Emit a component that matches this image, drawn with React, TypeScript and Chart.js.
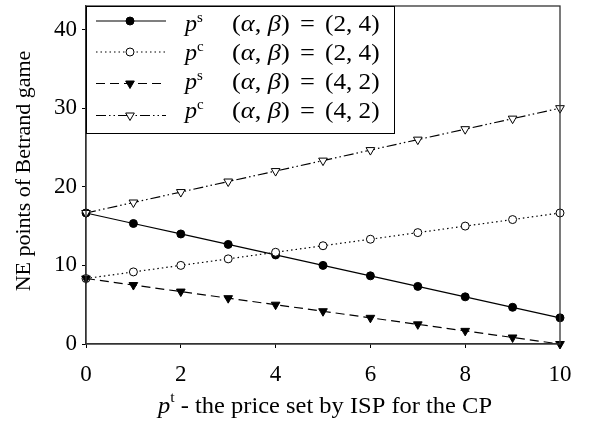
import React, { useEffect, useRef } from 'react';
import { Chart, registerables } from 'chart.js';

Chart.register(...registerables);

// ---- data ----
const xValues = [0, 1, 2, 3, 4, 5, 6, 7, 8, 9, 10];
const psA = [16.67, 15.33, 14.0, 12.67, 11.33, 10.0, 8.67, 7.33, 6.0, 4.67, 3.33]; // p^s (2,4)
const pcA = [8.33, 9.17, 10.0, 10.83, 11.67, 12.5, 13.33, 14.17, 15.0, 15.83, 16.67]; // p^c (2,4)
const psB = [8.33, 7.5, 6.67, 5.83, 5.0, 4.17, 3.33, 2.5, 1.67, 0.83, 0.0]; // p^s (4,2)
const pcB = [16.67, 18.0, 19.33, 20.67, 22.0, 23.33, 24.67, 26.0, 27.33, 28.67, 30.0]; // p^c (4,2)

const xTicks = [0, 2, 4, 6, 8, 10];
const yTicks = [0, 10, 20, 30, 40];

const legendSup = ['s', 'c', 's', 'c'];
const legendAB = [['2', '4'], ['2', '4'], ['4', '2'], ['4', '2']];

const yTitle = 'NE points of Betrand game';
const xTitleMain = 'p';
const xTitleSup = 't';
const xTitleRest = ' - the price set by ISP for the CP';

const FONT = "'Liberation Serif', serif";

type Style = { dash: number[]; shape: 'circle' | 'tri'; filled: boolean };
const styles: Style[] = [
  { dash: [], shape: 'circle', filled: true },
  { dash: [1.5, 3], shape: 'circle', filled: false },
  { dash: [9, 5], shape: 'tri', filled: true },
  { dash: [10, 3, 1.5, 3, 1.5, 3], shape: 'tri', filled: false },
];

function drawMarker(ctx: CanvasRenderingContext2D, s: Style, x: number, y: number) {
  ctx.save();
  ctx.setLineDash([]);
  ctx.lineWidth = 1;
  ctx.strokeStyle = '#000';
  ctx.fillStyle = s.filled ? '#000' : '#fff';
  ctx.beginPath();
  if (s.shape === 'circle') {
    ctx.arc(x, y, 4, 0, Math.PI * 2);
  } else {
    const r = 5;
    ctx.moveTo(x, y + r);
    ctx.lineTo(x + r * Math.sin(Math.PI * 2 / 3), y - r / 2);
    ctx.lineTo(x - r * Math.sin(Math.PI * 2 / 3), y - r / 2);
    ctx.closePath();
  }
  ctx.fill();
  ctx.stroke();
  ctx.restore();
}

type Run = { t: string; it?: boolean; sz?: number; dy?: number };
function runsWidth(ctx: CanvasRenderingContext2D, runs: Run[]) {
  let w = 0;
  for (const r of runs) {
    ctx.font = `${r.it ? 'italic ' : ''}${r.sz || 22}px ${FONT}`;
    w += ctx.measureText(r.t).width;
  }
  return w;
}
function drawRuns(ctx: CanvasRenderingContext2D, x: number, y: number, runs: Run[]) {
  let cx = x;
  for (const r of runs) {
    ctx.font = `${r.it ? 'italic ' : ''}${r.sz || 22}px ${FONT}`;
    ctx.fillText(r.t, cx, y + (r.dy || 0));
    cx += ctx.measureText(r.t).width;
  }
  return cx;
}

const overlayPlugin = {
  id: 'overlay',
  afterDraw(chart: any) {
    const ctx: CanvasRenderingContext2D = chart.ctx;
    const a = chart.chartArea;
    ctx.save();
    // frame
    ctx.strokeStyle = '#333';
    ctx.lineWidth = 1.3;
    ctx.strokeRect(a.left, a.top, a.right - a.left, a.bottom - a.top);

    // legend box
    const lx = a.left, ly = a.top, lw = 308, lh = 127;
    ctx.fillStyle = '#fff';
    ctx.fillRect(lx, ly, lw, lh);
    ctx.strokeStyle = '#000';
    ctx.lineWidth = 1;
    ctx.strokeRect(lx + 0.5, ly + 0.5, lw, lh);
    const rowY = [21, 52, 83.5, 115.5];
    const textY = [31, 60, 89, 118];
    ctx.fillStyle = '#000';
    ctx.textAlign = 'left';
    ctx.textBaseline = 'alphabetic';
    for (let i = 0; i < 4; i++) {
      const y = rowY[i];
      const s = styles[i];
      ctx.save();
      ctx.strokeStyle = '#000';
      ctx.lineWidth = 1.2;
      ctx.setLineDash(s.dash);
      ctx.beginPath();
      ctx.moveTo(96, y);
      ctx.lineTo(166, y);
      ctx.stroke();
      ctx.restore();
      drawMarker(ctx, s, 130, y);
      ctx.fillStyle = '#000';
      const b = textY[i];
      drawRuns(ctx, 185, b, [
        { t: 'p', it: true, sz: 24 },
        { t: legendSup[i], sz: 15, dy: -9 },
      ]);
      ctx.save();
      ctx.translate(232, b);
      ctx.scale(1.1, 1);
      drawRuns(ctx, 0, 0, [
        { t: '(', sz: 24 },
        { t: 'α', it: true, sz: 24 },
        { t: ', ', sz: 24 },
        { t: 'β', it: true, sz: 24 },
        { t: ')', sz: 24 },
      ]);
      ctx.restore();
      ctx.save();
      ctx.translate(300, b);
      ctx.scale(1.1, 1);
      drawRuns(ctx, 0, 0, [{ t: '=', sz: 24 }]);
      ctx.restore();
      ctx.save();
      ctx.translate(325, b);
      ctx.scale(1.05, 1);
      drawRuns(ctx, 0, 0, [
        { t: '(', sz: 24 },
        { t: legendAB[i][0], sz: 24 },
        { t: ', ', sz: 24 },
        { t: legendAB[i][1], sz: 24 },
        { t: ')', sz: 24 },
      ]);
      ctx.restore();
    }

    // x title
    const xr: Run[] = [
      { t: xTitleMain, it: true, sz: 23 },
      { t: xTitleSup, sz: 15, dy: -11 },
      { t: xTitleRest, sz: 23 },
    ];
    const w = runsWidth(ctx, xr);
    const k = 334 / w;
    ctx.save();
    ctx.translate(158, 413);
    ctx.scale(k, 1);
    drawRuns(ctx, 0, 0, xr);
    ctx.restore();

    // y title
    ctx.save();
    ctx.translate(30, 171);
    ctx.rotate(-Math.PI / 2);
    ctx.textAlign = 'center';
    ctx.font = `22px ${FONT}`;
    ctx.fillText(yTitle, 0, 0);
    ctx.restore();

    ctx.restore();
  },
};

export default function App() {
  const ref = useRef<HTMLCanvasElement>(null);
  useEffect(() => {
    let chart: Chart | null = null;
    let cancelled = false;
    const seriesVals = [psA, pcA, psB, pcB];
    const mk = (vals: number[], i: number) => {
      const s = styles[i];
      return {
        data: xValues.map((x, j) => ({ x, y: vals[j] })),
        borderColor: '#000',
        borderWidth: 1.2,
        borderDash: s.dash,
        pointStyle: s.shape === 'circle' ? 'circle' : 'triangle',
        rotation: s.shape === 'tri' ? 180 : 0,
        pointRadius: s.shape === 'circle' ? 4 : 5,
        pointBorderWidth: 1,
        pointBorderColor: '#000',
        pointBackgroundColor: s.filled ? '#000' : '#fff',
        fill: false,
        tension: 0,
        clip: false as any,
        order: 4 - i,
      };
    };
    const build = () => {
      if (cancelled || !ref.current) return;
      chart = new Chart(ref.current, {
        type: 'line',
        data: { datasets: seriesVals.map((v, i) => mk(v, i)) as any },
        options: {
          animation: false,
          responsive: false,
          devicePixelRatio: 1,
          layout: { padding: { left: 0, top: 4, right: 35, bottom: 0 } },
          plugins: { legend: { display: false }, tooltip: { enabled: false } },
          scales: {
            x: {
              type: 'linear',
              min: 0,
              max: 10,
              afterFit: (s: any) => {
                s.height = 91;
                s.paddingLeft = 0;
                s.paddingRight = 0;
              },
              afterBuildTicks: (s: any) => { s.ticks = xTicks.map((v) => ({ value: v })); },
              ticks: { color: '#000', font: { family: FONT, size: 23 }, padding: 13, maxRotation: 0 },
              grid: { drawOnChartArea: false, tickLength: 4, color: '#000' },
              border: { display: true, color: '#333', width: 1.3 },
            },
            y: {
              type: 'linear',
              min: 0,
              max: 43,
              afterFit: (s: any) => {
                s.width = 86;
                s.paddingTop = 0;
                s.paddingBottom = 0;
              },
              afterBuildTicks: (s: any) => { s.ticks = yTicks.map((v) => ({ value: v })); },
              ticks: { color: '#000', font: { family: FONT, size: 23 }, padding: 5 },
              grid: { drawOnChartArea: false, tickLength: 4, color: '#000' },
              border: { display: true, color: '#333', width: 1.3 },
            },
          },
        },
        plugins: [overlayPlugin],
      });
    };
    const fonts = (document as any).fonts;
    if (fonts && fonts.load) {
      Promise.all([
        fonts.load(`22px ${FONT}`),
        fonts.load(`italic 22px ${FONT}`),
      ]).then(build, build);
    } else {
      build();
    }
    return () => {
      cancelled = true;
      if (chart) chart.destroy();
    };
  }, []);
  return (
    <div style={{ position: 'fixed', left: 0, top: 0, width: 595, height: 435, background: '#fff' }}>
      <canvas ref={ref} width={595} height={435} style={{ width: 595, height: 435 }} />
    </div>
  );
}
